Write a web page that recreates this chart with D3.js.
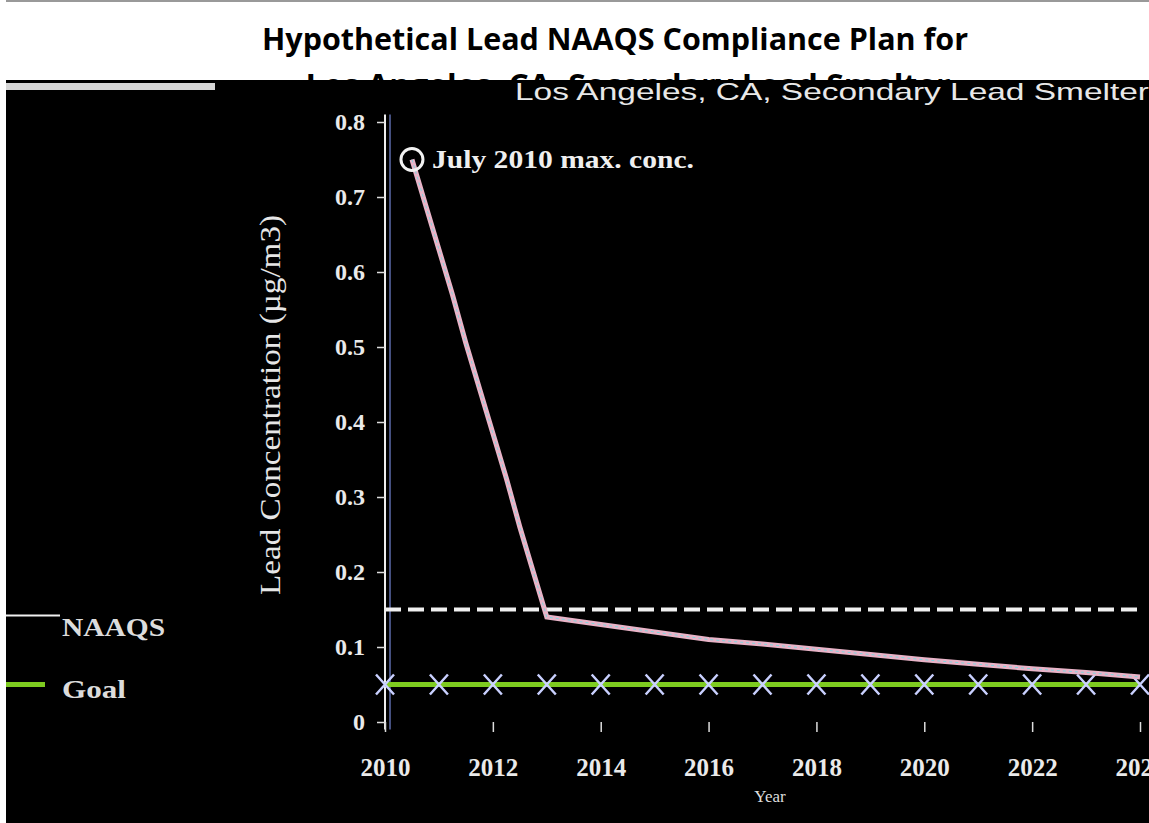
<!DOCTYPE html>
<html>
<head>
<meta charset="utf-8">
<script src="https://cdn.jsdelivr.net/npm/d3@7"></script>
<style>
  html, body { margin: 0; padding: 0; background: #fff; }
  svg { display: block; }
</style>
</head>
<body>
<script>
// ---------------- data ----------------
const titleLines = ["Hypothetical Lead NAAQS Compliance Plan for", "Los Angeles, CA, Secondary Lead Smelter"];
const yAxisTitle = "Lead Concentration (\u00b5g/m3)";
const xAxisTitle = "Year";
const annotationText = "July 2010 max. conc.";
const xTickValues = [2010, 2012, 2014, 2016, 2018, 2020, 2022, 2024];
const yTickValues = [0, 0.1, 0.2, 0.3, 0.4, 0.5, 0.6, 0.7, 0.8];

// compliance plan (max rolling avg)
const planYears  = [2010.5, 2010.75, 2011, 2011.25, 2011.5, 2011.75, 2012, 2012.25, 2012.5, 2012.75, 2013,
                    2014, 2015, 2016, 2017, 2018, 2019, 2020, 2021, 2022, 2023, 2024];
const planValues = [0.75, 0.69, 0.63, 0.57, 0.505, 0.445, 0.385, 0.325, 0.26, 0.20, 0.14,
                    0.13, 0.12, 0.11, 0.104, 0.097, 0.09, 0.083, 0.077, 0.071, 0.066, 0.06];

const refYears  = [2010, 2011, 2012, 2013, 2014, 2015, 2016, 2017, 2018, 2019, 2020, 2021, 2022, 2023, 2024];
const naaqsValues = [0.15, 0.15, 0.15, 0.15, 0.15, 0.15, 0.15, 0.15, 0.15, 0.15, 0.15, 0.15, 0.15, 0.15, 0.15];
const goalValues  = [0.05, 0.05, 0.05, 0.05, 0.05, 0.05, 0.05, 0.05, 0.05, 0.05, 0.05, 0.05, 0.05, 0.05, 0.05];
const legendLabels = ["NAAQS", "Goal"];

// ---------------- drawing ----------------
const W = 1149, H = 823;
const svg = d3.select("body").append("svg").attr("width", W).attr("height", H);

svg.append("rect").attr("x", 0).attr("y", 0).attr("width", W).attr("height", H).attr("fill", "#fff");
svg.append("rect").attr("x", 0).attr("y", 0).attr("width", W).attr("height", 2).attr("fill", "#999");

const fontT = "'Open Sans', 'Liberation Sans', sans-serif";
const fontC = "'Liberation Serif', 'DejaVu Serif', serif";

// title
svg.append("text").attr("x", 615).attr("y", 50).attr("text-anchor", "middle")
  .attr("font-family", fontT).attr("font-weight", "bold").attr("font-size", 30)
  .attr("textLength", 706).attr("lengthAdjust", "spacingAndGlyphs")
  .attr("fill", "#000").text(titleLines[0]);
svg.append("text").attr("x", 628).attr("y", 96).attr("text-anchor", "middle")
  .attr("font-family", fontT).attr("font-weight", "bold").attr("font-size", 30)
  .attr("textLength", 645).attr("lengthAdjust", "spacingAndGlyphs")
  .attr("fill", "#000").text(titleLines[1]);

// dark plot panel
svg.append("rect").attr("x", 6).attr("y", 80).attr("width", W - 6).attr("height", H - 80).attr("fill", "#000");
svg.append("rect").attr("x", 6).attr("y", 83).attr("width", 209).attr("height", 7).attr("fill", "#d6d6d6");

// faint subtitle echo in the panel
svg.append("text").attr("x", 515).attr("y", 100)
  .attr("font-family", "'Liberation Sans Narrow', 'Liberation Sans', sans-serif").attr("font-size", 24)
  .attr("textLength", 634).attr("lengthAdjust", "spacingAndGlyphs")
  .attr("fill", "#e8e8e8").text(titleLines[1]);

const x = d3.scaleLinear().domain([2010, 2024]).range([385, 1140]);
const y = d3.scaleLinear().domain([0, 0.8]).range([722, 122]);

// y axis
const yAxis = svg.append("g").attr("transform", "translate(385,0)")
  .call(d3.axisLeft(y).tickValues(yTickValues).tickSize(8).tickPadding(12)
    .tickFormat(d => d === 0 ? "0" : d3.format(".1f")(d)));
yAxis.select(".domain").attr("stroke", "#eee").attr("stroke-width", 2)
  .attr("d", `M0,${y(0.81)}V${y(-0.01)}`);
yAxis.selectAll(".tick line").attr("stroke", "#ddd").attr("stroke-width", 1.5);
yAxis.selectAll(".tick text").attr("fill", "#eaeaea").attr("font-family", fontC)
  .attr("font-size", 24).attr("font-weight", "bold");
svg.append("line").attr("x1", 390).attr("x2", 390).attr("y1", y(0.81)).attr("y2", y(-0.01))
  .attr("stroke", "#8aa0ff").attr("stroke-width", 1);

// x axis
const xAxis = svg.append("g").attr("transform", `translate(0,${y(0)})`)
  .call(d3.axisBottom(x).tickValues(xTickValues).tickSize(10).tickPadding(26).tickFormat(d3.format("d")));
xAxis.select(".domain").remove();
xAxis.selectAll(".tick line").attr("stroke", "#ddd").attr("stroke-width", 1.5);
xAxis.selectAll(".tick text").attr("fill", "#eaeaea").attr("font-family", fontC)
  .attr("font-size", 25).attr("font-weight", "bold");

// axis titles
svg.append("text").attr("transform", "translate(280,405) rotate(-90)").attr("text-anchor", "middle")
  .attr("font-family", fontC).attr("font-size", 30).attr("fill", "#e6e6e6")
  .attr("textLength", 380).attr("lengthAdjust", "spacingAndGlyphs").text(yAxisTitle);
svg.append("text").attr("x", 770).attr("y", 802).attr("text-anchor", "middle")
  .attr("font-family", fontC).attr("font-size", 17).attr("fill", "#ddd").text(xAxisTitle);

// reference lines
const line = d3.line().x(d => x(d[0])).y(d => y(d[1]));
const naaqs = refYears.map((t, i) => [t, naaqsValues[i]]);
const goal = refYears.map((t, i) => [t, goalValues[i]]);

svg.append("path").datum(naaqs).attr("d", line).attr("fill", "none")
  .attr("stroke", "#f0f0f0").attr("stroke-width", 4).attr("stroke-dasharray", "16,7");
svg.append("path").datum(goal).attr("d", line).attr("fill", "none")
  .attr("stroke", "#7ecb20").attr("stroke-width", 5);
svg.selectAll(".goalMark").data(goal).enter().append("path")
  .attr("transform", d => `translate(${x(d[0])},${y(d[1])})`)
  .attr("d", "M-9,-10L9,10M-9,10L9,-10").attr("stroke", "#c9d0ff").attr("stroke-width", 2.5);

// plan line
const plan = planYears.map((t, i) => [t, planValues[i]]);
svg.append("path").datum(plan).attr("d", line).attr("fill", "none")
  .attr("stroke", "#e8b4c8").attr("stroke-width", 5);
svg.append("path").datum(plan).attr("d", line).attr("fill", "none")
  .attr("stroke", "#7fd6e0").attr("stroke-width", 1).attr("stroke-dasharray", "3,3");
svg.append("circle").attr("cx", x(planYears[0])).attr("cy", y(planValues[0])).attr("r", 11)
  .attr("fill", "none").attr("stroke", "#f2f2f2").attr("stroke-width", 3);

// annotation
svg.append("text").attr("x", 432).attr("y", 168)
  .attr("font-family", fontC).attr("font-size", 25).attr("font-weight", "bold")
  .attr("textLength", 262).attr("lengthAdjust", "spacingAndGlyphs")
  .attr("fill", "#efefef").text(annotationText);

// legend
const legend = svg.append("g");
legend.append("line").attr("x1", 6).attr("x2", 60).attr("y1", y(0.15) + 6).attr("y2", y(0.15) + 6)
  .attr("stroke", "#f0f0f0").attr("stroke-width", 2);
legend.append("line").attr("x1", 6).attr("x2", 45).attr("y1", y(0.05)).attr("y2", y(0.05))
  .attr("stroke", "#7ecb20").attr("stroke-width", 5);
legend.append("text").attr("x", 62).attr("y", 636).attr("font-family", fontC).attr("font-weight", "bold")
  .attr("font-size", 26).attr("textLength", 103).attr("lengthAdjust", "spacingAndGlyphs")
  .attr("fill", "#dcdcdc").text(legendLabels[0]);
legend.append("text").attr("x", 62).attr("y", 698).attr("font-family", fontC).attr("font-weight", "bold")
  .attr("font-size", 26).attr("textLength", 64).attr("lengthAdjust", "spacingAndGlyphs")
  .attr("fill", "#dcdcdc").text(legendLabels[1]);

// white left strip
svg.append("rect").attr("x", 0).attr("y", 0).attr("width", 6).attr("height", H).attr("fill", "#fff");
</script>
</body>
</html>
